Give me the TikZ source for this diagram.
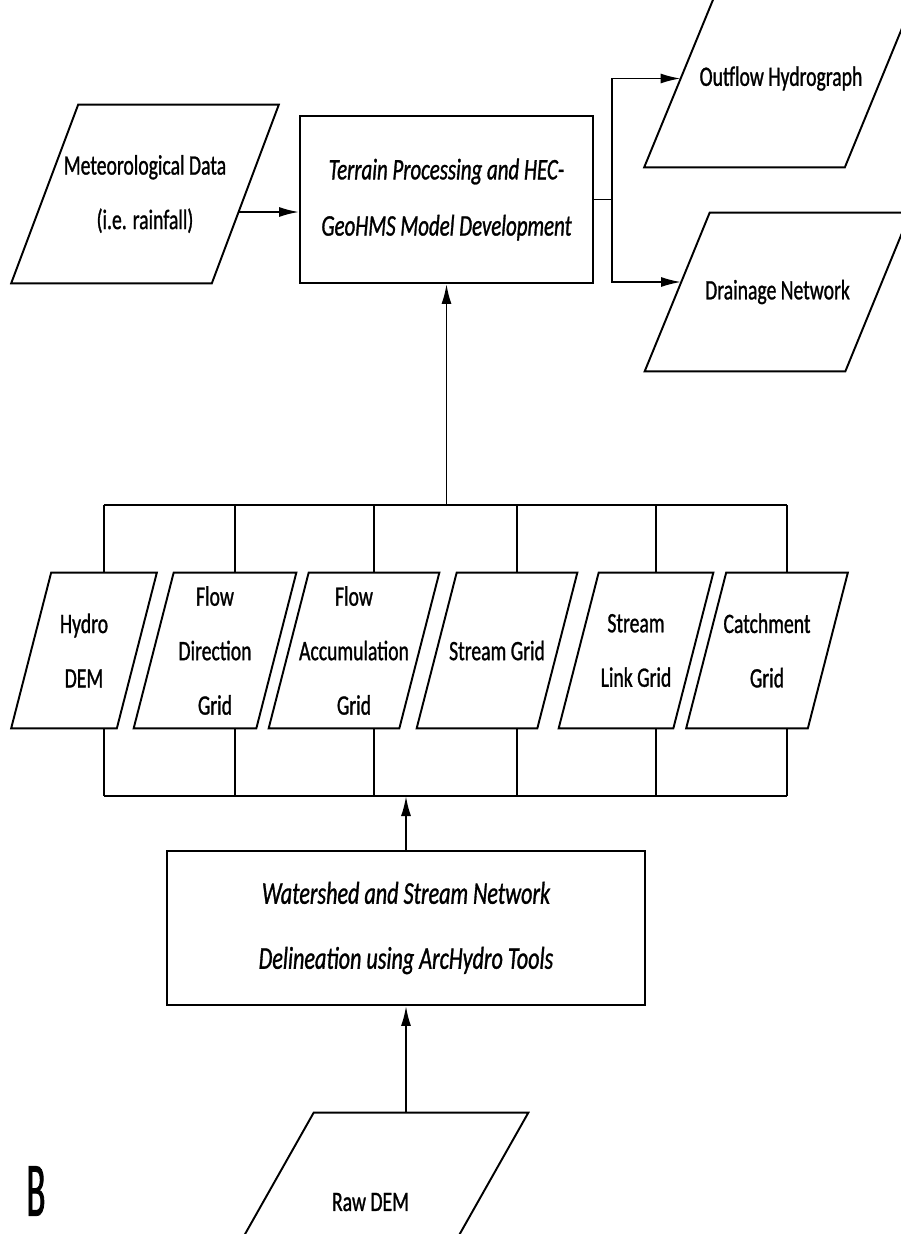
\documentclass[tikz,border=0pt]{standalone}
\usepackage{fontspec}
\setmainfont{Carlito}[FakeStretch=0.7, FakeBold=1]
\newfontfamily\panelfont{Carlito}[FakeStretch=0.45, FakeBold=1]
\usetikzlibrary{arrows.meta}

\tikzset{
  datapara/.style={rectangle, inner sep=0pt, align=center, font=\fontsize{16}{31}\selectfont},
  procbox/.style={draw, line width=1.1pt, rectangle, inner sep=0pt, align=center},
  arr/.style={-{Latex[length=0.4cm,width=0.2cm]}, line width=1.1pt},
  feed/.style={line width=1.1pt}
}
% parallelogram frame round a data node: #1 node, #2 half slant
\newcommand{\slantframe}[2]{%
  \draw[line width=1.1pt] ([xshift=-#2]#1.south west) -- ([xshift=#2]#1.north west)
    -- ([xshift=#2]#1.north east) -- ([xshift=-#2]#1.south east) -- cycle;}

\begin{document}
\begin{tikzpicture}[x=0.02cm, y=-0.02cm]
\useasboundingbox (0,0) rectangle (900,1234);

% Top row: inputs, model, outputs
\node[datapara, minimum width=4cm, minimum height=3.56cm] (meteo) at (145,194) {Meteorological Data\\(i.e. rainfall)};
\node[procbox, minimum width=5.86cm, minimum height=3.34cm, font=\itshape\fontsize{17}{32}\selectfont] (terrain) at (446.5,199.5) {Terrain Processing and HEC-\\GeoHMS Model Development};
\node[datapara, minimum width=4cm, minimum height=3.54cm] (outflow) at (781,78.5) {Outflow Hydrograph};
\node[datapara, minimum width=4cm, minimum height=3.16cm] (drainage) at (777.5,292) {Drainage Network};

% Middle row: ArcHydro grids
\node[datapara, minimum width=2.1cm, minimum height=3.1cm] (hydro) at (84,650.5) {Hydro\\DEM};
\node[datapara, minimum width=2.44cm, minimum height=3.1cm] (flowdir) at (215,650.5) {Flow\\Direction\\Grid};
\node[datapara, minimum width=2.6cm, minimum height=3.1cm] (flowacc) at (354,650.5) {Flow\\Accumulation\\Grid};
\node[datapara, minimum width=2.4cm, minimum height=3.1cm] (stream) at (497,650.5) {Stream Grid};
\node[datapara, minimum width=2.28cm, minimum height=3.1cm] (link) at (636,650.5) {Stream\\Link Grid};
\node[datapara, minimum width=2.42cm, minimum height=3.1cm] (catch) at (767,650.5) {Catchment\\Grid};

% Bottom: delineation and raw DEM
\node[procbox, minimum width=9.56cm, minimum height=3.08cm, font=\itshape\fontsize{18}{37}\selectfont] (watershed) at (406,928) {Watershed and Stream Network\\Delineation using ArcHydro Tools};
\node[datapara, minimum width=4.28cm, minimum height=3.56cm] (rawdem) at (370.5,1202) {Raw DEM};
\node[inner sep=0pt] (panel) at (36,1191) {\panelfont\fontsize{44}{44}\selectfont B};

% parallelogram outlines
\slantframe{meteo}{0.67cm}
\slantframe{outflow}{0.73cm}
\slantframe{drainage}{0.65cm}
\slantframe{rawdem}{1.01cm}
\foreach \n in {hydro, flowdir, flowacc, stream, link, catch} {
  \slantframe{\n}{0.4cm}
  \coordinate (\n-t) at ([xshift=0.4cm]\n.north);
}

\coordinate (topbus) at (0,505);
\coordinate (lowbus) at (0,796);
\coordinate (split) at (612,0);

% connectors
\draw[arr] ([xshift=-0.14cm, yshift=-0.36cm]meteo.east) -- ([yshift=-0.25cm]terrain.west);
\draw[arr] (terrain.east) -- (terrain.east -| split) |- (outflow.west);
\draw[arr] (terrain.east -| split) |- ([xshift=0.08cm, yshift=0.2cm]drainage.west);
\draw[arr] (terrain.south |- topbus) -- (terrain.south);

\draw[feed] (hydro-t |- topbus) -- (catch-t |- topbus);
\draw[feed] (hydro-t |- lowbus) -- (catch-t |- lowbus);
\foreach \n in {hydro, flowdir, flowacc, stream, link, catch} {
  \draw[feed] (\n-t |- topbus) -- (\n-t);
  \draw[feed] (\n-t |- \n.south) -- (\n-t |- lowbus);
}

\draw[arr] (watershed.north) -- (watershed.north |- lowbus);
\draw[arr] (watershed.south |- rawdem.north) -- (watershed.south);
\end{tikzpicture}
\end{document}
